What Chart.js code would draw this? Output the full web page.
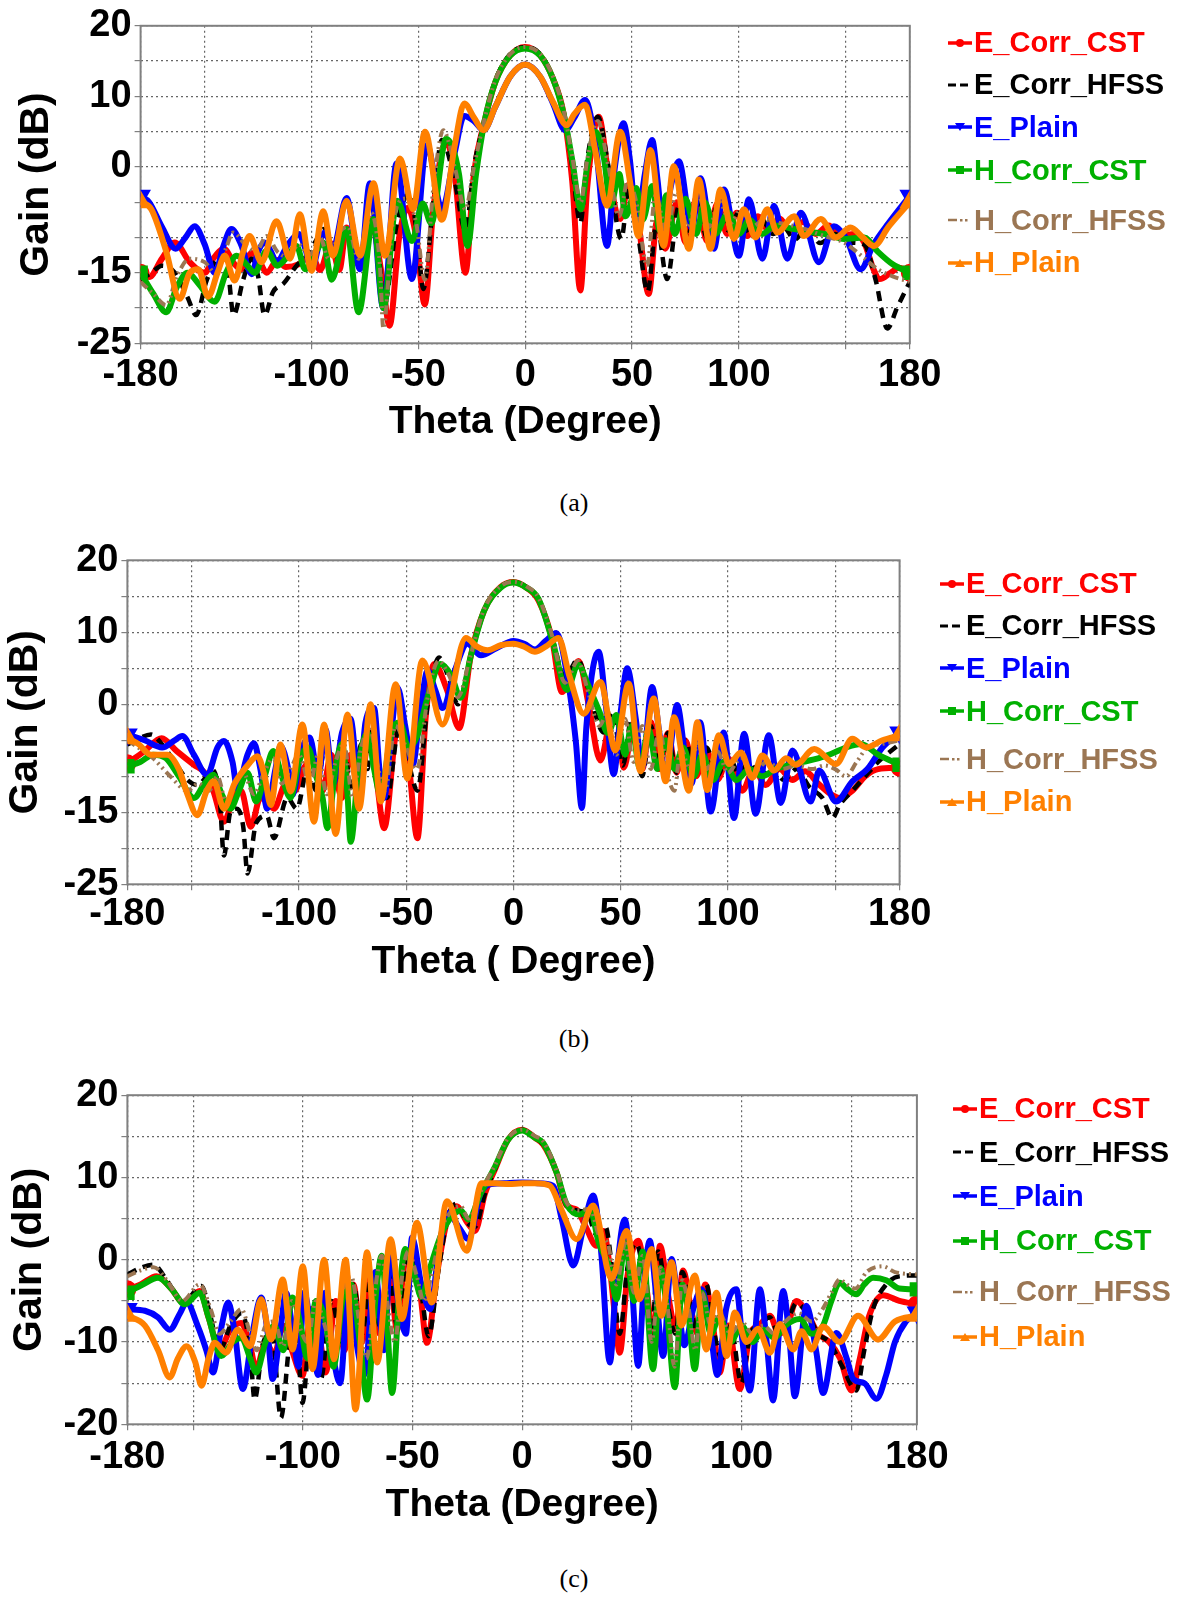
<!DOCTYPE html>
<html>
<head>
<meta charset="utf-8">
<script src="https://cdn.jsdelivr.net/npm/chart.js@4.4.1/dist/chart.umd.min.js"></script>
<style>
body { margin: 0; background: #fff; width: 1190px; height: 1597px; position: relative; overflow: hidden; font-family: "Liberation Sans", Arial, sans-serif; }
canvas { position: absolute; left: 0; }
.leg { position: absolute; height: 40px; display: flex; align-items: center; font-weight: bold; font-size: 29px; white-space: nowrap; }
.leg svg { margin-right: 1px; }
.cap { position: absolute; font-family: "Liberation Serif", "Times New Roman", serif; font-size: 26px; transform: translate(-50%, -50%); }
</style>
</head>
<body>
<canvas id="chartA" width="1190" height="470" style="top:0px"></canvas>
<canvas id="chartB" width="1190" height="470" style="top:530px"></canvas>
<canvas id="chartC" width="1190" height="470" style="top:1060px"></canvas>
<div class="cap" style="left:574px;top:503px">(a)</div>
<div class="cap" style="left:574px;top:1039px">(b)</div>
<div class="cap" style="left:574px;top:1579px">(c)</div>
<script>
// Gain patterns (theta in degrees, gain in dB)

const SERIES_NAMES = ['E_Corr_CST', 'E_Corr_HFSS', 'E_Plain', 'H_Corr_CST', 'H_Corr_HFSS', 'H_Plain'];
const X_TICKS = [-180, -150, -100, -50, 0, 50, 100, 150, 180];
const X_LABELS = [-180, -100, -50, 0, 50, 100, 180];
const A_Y_LABELS = [20, 10, 0, -15, -25];
const B_Y_LABELS = [20, 10, 0, -15, -25];
const C_Y_LABELS = [20, 10, 0, -10, -20];

// ---- (a) ----
const aECorrCst = [[-180,-15],[-176,-15.6],[-170,-13],[-164,-10.7],[-157,-13.5],[-150,-15],[-146,-13],[-141,-11.6],[-136,-13.8],[-133,-14.5],[-128,-12.2],[-124,-13.6],[-121,-15],[-116,-13.2],[-112,-14.2],[-106,-13.8],[-100,-12.5],[-96,-14.6],[-91,-10.8],[-87,-14.6],[-83.6,-8.6],[-78,-13.8],[-72.5,-7.4],[-67,-15.5],[-63.5,-22.5],[-59,-10],[-55,-5.8],[-51,-10],[-47,-19.5],[-43,-6],[-37,3.5],[-33,-1],[-28,-15],[-24,-1],[-19,6.5],[-14,12],[-7,15.8],[0,17],[7,15.8],[13,12.5],[18,7.5],[22,-2],[25.8,-17.5],[29,-3],[34.4,7.1],[39,-1],[44.5,-7.4],[48.4,-2.5],[53,-8],[57.8,-18],[61.7,-7.7],[65.6,-11.6],[71,-5],[75,-10.7],[80.5,-4.2],[85,-10.5],[90,-5.2],[94.5,-9.5],[99,-6.5],[104,-9.8],[109,-7],[114,-9],[119,-7.3],[124,-9],[130,-7.8],[136,-9.5],[142,-8.3],[148,-9.7],[154,-9.5],[158.6,-10.7],[163,-14.5],[166,-15.9],[171,-15],[175,-14.3],[180,-15]];
const aECorrHfss = [[-180,-16],[-175,-15],[-170,-14],[-164,-15],[-158,-18.5],[-154,-21],[-149,-16],[-142,-12.5],[-139,-15],[-136.5,-21],[-132,-16],[-128,-13],[-125,-15.5],[-122,-21],[-118,-17.7],[-113,-16.5],[-107,-14],[-102,-12.5],[-98,-10.5],[-94.5,-8.8],[-90,-13],[-86,-10],[-83,-9.5],[-78,-14],[-72.7,-7.8],[-68,-14],[-66.4,-20],[-60,-8],[-54,-3.7],[-50.5,-10],[-47.7,-17.3],[-43,-5],[-39,3.8],[-33,-2],[-28,-9],[-24,0],[-19,6.5],[-14,12.2],[-7,16],[0,17],[7,16],[13,12.5],[18,7.5],[22,0],[25.8,-7.9],[29,1],[34,7.1],[39,0],[45,-10.2],[48.5,-3],[53,-10],[57.3,-17.7],[61.5,-8],[66.4,-15.9],[72,-5.5],[76,-10],[80.5,-4.5],[85,-10],[90,-5.5],[95,-9],[100,-6.5],[105,-9.5],[110,-7.2],[116,-9.5],[121,-8.5],[126,-10.3],[132,-8.6],[138,-10.8],[145,-9.5],[152,-10.7],[158.6,-11],[164,-16],[169.5,-22.9],[174,-20],[180,-16.3]];
const aEPlain = [[-180,-4.1],[-176,-5],[-170,-8.5],[-163.6,-11.6],[-159,-10],[-154.7,-8.4],[-150,-11],[-145.3,-15],[-141,-11],[-137.5,-8.8],[-133,-11],[-128,-15.2],[-125,-12],[-122,-10.7],[-119,-12],[-116.4,-13.5],[-111,-11],[-106,-9.5],[-103,-11.5],[-100,-14.5],[-96,-10.5],[-93.8,-9.3],[-90,-11.6],[-83.6,-4.4],[-77.3,-14.5],[-72.7,-2.3],[-66.4,-20],[-60.2,0.5],[-53,-15.9],[-46,3.1],[-39,-6],[-33,2],[-28.6,7.2],[-24,6.5],[-19.5,5.2],[-14,8.5],[-7,12.8],[0,14.5],[7,12.8],[13,9],[18.7,5.2],[23,7],[28,9.5],[33,3],[38.3,-11.2],[42,0],[46,6.2],[49,1],[52.3,-8],[56,-1],[59.4,3.8],[62,-2],[64.8,-9.3],[68,-3],[71.9,0.8],[78,-8.7],[82,-1.6],[88.3,-11.6],[93,-3.2],[100,-12.6],[104.7,-4.6],[111,-13],[116.4,-5.5],[122.7,-13],[129,-6.5],[137.5,-13.5],[144.5,-8.4],[150,-10],[157,-14.5],[163,-11],[170,-8],[180,-4.1]];
const aHCorrCst = [[-180,-15],[-174,-18],[-168,-20.6],[-163,-17],[-158,-15],[-153,-16.5],[-145.3,-19.1],[-140,-15],[-135,-12.6],[-130,-14],[-126.6,-15],[-121,-11.9],[-116,-14],[-112,-13],[-107,-11.2],[-103,-14.5],[-98,-12],[-94.5,-10.7],[-90.6,-16],[-83.6,-8.8],[-78,-20.6],[-71,-7.4],[-66.4,-20],[-60,-4.8],[-53,-10.5],[-48,-5.2],[-44,-8],[-37,4],[-31,-1],[-27,-11.2],[-23,-1],[-19,6.5],[-14,12],[-7,15.8],[0,16.8],[7,15.8],[13,12.5],[18,7.5],[22,1],[26,-6],[29,0],[33,5],[37,1],[40,-5.5],[44,-1],[47,-7],[52,-3],[55,-7.5],[59.4,-2.7],[63,-9],[66,-4],[70,-9.5],[75,-4.5],[80,-9.5],[84,-5],[89,-9.5],[95,-6.5],[100,-9.5],[105,-7.5],[111,-9.5],[117,-8.3],[125.8,-8.8],[135,-9.3],[142,-9.6],[149,-10.2],[158.6,-10],[165,-12],[172,-13.8],[180,-15]];
const aHCorrHfss = [[-180,-16.3],[-174,-18],[-168,-19.6],[-163,-15.5],[-157,-13],[-150,-13.5],[-145,-15],[-140,-11.5],[-136.7,-9.3],[-131,-11],[-126,-12],[-121,-9.8],[-116,-12],[-111,-12.8],[-106,-11],[-101,-12.5],[-96,-10],[-92,-13],[-87,-9.3],[-83,-8.5],[-78,-13],[-72,-6.5],[-68,-14],[-66.4,-22.9],[-62,-8],[-56,-4.5],[-51,-8],[-47,-16],[-43,-3],[-38.3,5.2],[-33,0],[-28,-6],[-24,0],[-19,6.8],[-14,12.3],[-7,16],[0,17],[7,16],[13,12.8],[18,8],[22,1.5],[26,-5],[29,1],[34,6.5],[39,0],[44,-7],[48,-2],[52,-5],[57,-14],[61,-4],[66,-9],[71,-3.5],[76,-8.5],[81,-4],[86,-8.5],[91,-5],[96,-8],[101,-6],[106,-8.5],[112,-7.5],[120,-8],[130,-8.7],[140,-9.8],[149,-10.7],[157,-12.5],[165,-14.5],[172,-15.5],[180,-16.3]];
const aHPlain = [[-180,-5],[-175,-6],[-168,-12],[-161.7,-18.7],[-157,-15],[-153,-14.5],[-148.4,-18.4],[-144,-15],[-140.6,-12.6],[-136,-16.1],[-132,-12],[-129,-9.8],[-123.4,-13.5],[-116.4,-7.7],[-110,-13],[-105.5,-6.7],[-100,-14.7],[-94.5,-6.3],[-90,-12.6],[-83.6,-4.8],[-77.3,-12.6],[-71,-2.3],[-65.6,-12.6],[-58.6,1.2],[-52.5,-6],[-46.9,5],[-39,-7.5],[-33,3],[-28.5,9],[-24,7],[-19.5,5.2],[-14,8.5],[-7,12.8],[0,14.5],[7,12.8],[13,9.2],[19.5,5.9],[23,7.5],[28,8.8],[33,2],[38.3,-5.5],[44.5,5],[49,-2],[53,-9.8],[58.6,2.4],[64.8,-11.2],[69.5,0.1],[76.6,-11.6],[81.2,-1.8],[86.7,-11.6],[91.4,-3.2],[97.7,-10.2],[102.3,-6],[107.8,-10],[113.3,-6],[118,-9.3],[125.8,-7],[130.5,-9.8],[138.3,-7.4],[145.3,-10],[152.3,-8.6],[158,-10],[163.3,-11.2],[170,-8.5],[180,-5]];

// ---- (b) ----
const bECorrCst = [[-180,-8.2],[-172,-6.5],[-164,-4.7],[-157,-6.5],[-149,-8.4],[-144,-9.5],[-140,-12],[-135,-16.3],[-130,-12.5],[-127,-12],[-122.5,-17],[-118,-13],[-115,-13.5],[-111.7,-14.5],[-106,-11],[-102,-12],[-98,-9],[-93,-7.5],[-89,-12],[-85,-7],[-80,-13],[-76,-7],[-72,-12.5],[-67,-4],[-64,-10],[-60.3,-17.2],[-54,-3.3],[-49,-8],[-44.8,-18.6],[-41,-2],[-37,5.6],[-31,2],[-25.3,-3.3],[-20,6.6],[-13.7,13],[-6,16.3],[0,17],[6,16.2],[11.7,14.4],[18,9],[22.6,1.7],[30.4,6],[35,0],[40.5,-7.8],[45,-2.5],[48.3,-1.8],[51.4,-8.8],[56,-3],[60,-9],[64,-2.5],[68,-9],[72,-4],[76,-9.5],[80,-5],[85,-10],[90,-6.5],[95,-10.5],[100,-7.5],[106.7,-12],[112,-9],[117.6,-11.2],[124,-9],[130,-10.5],[136,-9.3],[142,-11],[148,-12.5],[152,-13],[158,-12],[164,-10],[170,-9],[180,-8.8]];
const bECorrHfss = [[-180,-5.6],[-175,-4.8],[-169,-4.2],[-164,-5.5],[-158,-8],[-152,-10.5],[-147.4,-11.2],[-143,-10],[-140.4,-9.1],[-137,-13],[-135,-21],[-132,-15],[-129,-14.5],[-126,-17],[-124,-23.5],[-120,-16.5],[-115,-15.5],[-111.7,-18.6],[-105.4,-13],[-101,-14.5],[-96,-9],[-92,-12],[-87.6,-5.6],[-83,-11],[-79,-7],[-75,-12],[-71,-5.5],[-68,-9],[-66.6,-3.7],[-62,-10],[-59,-13],[-53.3,-3.3],[-49,-8],[-44.8,-12],[-40,0],[-34.7,6.5],[-30,3.5],[-26,0],[-20,6.6],[-13.7,13],[-6,16.3],[0,17],[6,16.3],[11.7,14.6],[18,9.2],[24,3.8],[30,6.2],[35,2],[42,-3.9],[46,-1],[51,-8.5],[55,-2],[60,-10],[64,-3],[68,-9],[72,-4],[76,-9.5],[80,-5],[85,-9.5],[90,-6],[95,-10],[100,-7],[105,-9.5],[110,-8],[115,-10.5],[120,-8.5],[126,-10.5],[132,-9],[138,-11.5],[144,-13],[148.7,-15.8],[152,-14],[158,-12],[164,-10],[170,-8],[180,-5.5]];
const bEPlain = [[-180,-4.2],[-172,-5],[-163.8,-6],[-158,-5],[-154.4,-4.4],[-149,-7],[-142.8,-9.8],[-138,-6],[-135,-5.1],[-131,-8],[-128.8,-11.7],[-124,-7],[-121,-5.4],[-118,-9],[-114.8,-14.5],[-111,-9],[-108.6,-5.8],[-105,-9],[-103,-12.6],[-99,-6.5],[-95,-4.6],[-91,-10],[-87.6,-3.5],[-84,-11],[-80,-4],[-76,-2],[-72,-11],[-69,-2.5],[-65,-0.5],[-62.5,-9],[-60.3,-13],[-57,-4],[-54,2.3],[-50.5,-3],[-47,-8.4],[-43.5,-1],[-40,4.7],[-36.5,2],[-33.1,-0.5],[-27,5],[-21.5,8.4],[-15.2,6.8],[-8,7.8],[0,8.8],[5,8.4],[10,7.6],[15,8.8],[20,9.9],[25,4],[29,-5],[31.9,-14.4],[34,-3],[39.7,7.3],[43,0],[46.7,-9.7],[50,-1],[53,5],[57,-2],[60,-8.8],[64.6,2.4],[68,-4],[70.9,-10.2],[76.3,-0.1],[80,-7],[83,-11],[87,-2.5],[91.9,-14.9],[98,-3.9],[102.8,-15.8],[107.5,-4.1],[112.9,-15.2],[119,-4.3],[124.6,-13.7],[130,-6.4],[138.6,-13.5],[142.5,-9.2],[150.3,-13.5],[158,-10.7],[165,-9],[172,-6],[180,-3.9]];
const bHCorrCst = [[-180,-8.6],[-174,-8],[-168,-7],[-162,-7.5],[-156,-10],[-149,-13],[-144,-11],[-140,-9.8],[-136,-12.5],[-132,-14.5],[-128,-12],[-124,-9.5],[-120,-13.5],[-116,-10],[-112,-6.5],[-108,-10],[-104,-13],[-100,-8],[-96,-6],[-92,-10],[-89,-13],[-86.8,-17.2],[-83,-9],[-80,-5.5],[-77.5,-12],[-75.9,-19.1],[-72,-8],[-68,-4],[-65,-9],[-62,-12.5],[-57,-4],[-53,-2.5],[-49,-6],[-45,-4.5],[-40,1],[-34,5.6],[-29,4],[-24.6,0.9],[-20,6.6],[-13.7,13],[-6,16.2],[0,16.9],[6,16.2],[11.7,14.6],[18,9],[25,2],[30,5.5],[35,2.5],[40,-1],[44,-4],[48,-1.5],[52,-7],[55,-3],[59,-9],[63,-3.5],[67,-9],[71,-5],[75,-9],[79,-6],[84,-10],[88,-7],[93,-10.5],[98,-8],[104,-10.5],[110,-9],[116,-10],[122,-9],[128,-8.5],[135,-8],[142,-7.5],[148,-6.9],[155,-6],[162,-5.5],[170,-7],[180,-8.4]];
const bHCorrHfss = [[-180,-5],[-175,-6],[-168,-7.5],[-160,-10],[-152,-12],[-147,-11],[-142,-12],[-138,-10],[-134,-13.5],[-130,-11],[-126,-9.5],[-121,-12.5],[-117,-10],[-112,-7.5],[-108,-11],[-104,-9],[-100,-7],[-95,-11],[-91,-7],[-87,-12.5],[-83,-8],[-79,-5.5],[-75,-13],[-71,-6],[-67,-3.5],[-63,-9],[-60,-12],[-55,-3],[-50,-6],[-45,-9],[-40,1],[-35,6],[-30,4],[-26,1],[-20,6.8],[-13.7,13.2],[-6,16.4],[0,17],[6,16.4],[11.7,14.8],[18,9.5],[24,3],[30,6],[35,1.5],[40,-3],[44,-1],[48,-7],[52,-2],[56,-8],[60,-3],[64,-9],[68,-3.5],[72,-10],[75,-12],[78,-6],[82,-9],[86,-5.5],[90,-9],[95,-6.5],[100,-9.5],[106,-7.5],[112,-9.5],[118,-8],[125,-9],[132,-8.5],[139,-9],[145,-8.5],[150,-9],[155,-10],[160,-8],[165,-6],[172,-5.5],[180,-5]];
const bHPlain = [[-180,-4.7],[-175,-5.5],[-169,-7],[-161.4,-7],[-156,-9],[-152,-12.5],[-147.4,-15.4],[-143,-12],[-139.7,-10.7],[-135,-14.5],[-130,-11],[-124,-8.5],[-119.4,-7.2],[-116,-10],[-113.2,-14],[-108.6,-5.6],[-103.9,-12.1],[-98.4,-2.8],[-93,-16.3],[-88.3,-2.8],[-82.9,-18],[-77.4,-1.4],[-72,-14.5],[-66.6,0],[-61.9,-13.5],[-54.9,2.8],[-49.5,-10.3],[-42.5,6.1],[-33.1,-2.8],[-22.2,9.2],[-17,8],[-12,7.5],[-6,8.2],[0,8.4],[5,8],[10,7.3],[15,8],[21,9.2],[26,4],[32.7,-1.3],[40.5,3.1],[47.5,-6.4],[53.7,2.9],[59.2,-9.3],[65.4,0.8],[70.9,-10.7],[74.8,-1.8],[81.8,-12],[85.7,-2.5],[90.3,-11.9],[95.8,-4.3],[100.5,-8.3],[106,-6.7],[111.4,-10.2],[116,-7.1],[121.5,-9.2],[127,-7.5],[131.6,-8.4],[140.2,-6.2],[150.3,-8.3],[158,-4.8],[164.3,-6],[172,-5],[180,-4.3]];

// ---- (c) ----
const cECorrCst = [[-180,-3.6],[-174,-3],[-166.7,-2],[-160,-3.5],[-154.6,-5.2],[-147,-3.8],[-143,-7],[-138,-10.9],[-133,-8.5],[-128.1,-7.7],[-124,-10.5],[-121.3,-13.3],[-117,-10],[-113,-11.5],[-109,-8],[-105,-11],[-100.2,-14.1],[-96,-6],[-92,-10],[-89.6,-13.7],[-85,-5],[-81,-11],[-77,-3],[-73,-10],[-69,-2],[-65,-9],[-61,-0.5],[-57,-8.5],[-54,-1],[-50.2,0.9],[-46.5,-4],[-43.4,-10.1],[-39,-2],[-34,5],[-30,6.5],[-25,4.5],[-21.5,3.5],[-17,8],[-12.4,11],[-6.4,14.6],[0,15.8],[6,14.8],[9.6,14],[15.7,10.6],[20.2,6.6],[24.8,6.1],[29,4],[33.9,1.7],[37,3.5],[40,-1],[42,-6],[44.5,-11.3],[48,-2],[52.9,2.3],[57,-4],[60,-10],[62.8,1.7],[67,-5],[70,-8.5],[73.4,-1.3],[77,-6],[80,-9],[83.5,-3],[87,-8],[90.1,-13.7],[94,-8],[99.2,-15.7],[104,-9],[108,-8],[113,-6.8],[117,-9],[121,-8],[125,-5],[130,-6.5],[135,-9],[140,-10],[145,-12],[150.2,-15.9],[154,-12],[158,-7],[164.6,-4.3],[172,-5],[180,-5.4]];
const cECorrHfss = [[-180,-1.8],[-174,-1],[-168.2,-0.6],[-162,-2.5],[-154.6,-5.2],[-146.2,-3.2],[-142,-7],[-138,-11],[-133,-8],[-128,-6.5],[-124,-11],[-122,-17],[-118,-10],[-114,-9],[-110,-19.2],[-106,-10],[-103,-8],[-100.2,-17.4],[-96,-7],[-91.8,-14.5],[-87,-5],[-82,-10],[-77,-3],[-73,-9],[-69,-2.5],[-65,-8],[-61,-1],[-57,-8],[-53,-1],[-49.5,0.5],[-46,-4],[-42.7,-9.3],[-38,-1],[-34,5],[-30,6.8],[-25,4.5],[-21.5,4],[-17,8],[-12.4,11],[-6.4,14.6],[0,15.8],[6,14.8],[9.6,14],[15.7,10.6],[20.2,6.6],[25,6],[30,5.5],[34,3],[38,4],[41,-1],[44.5,-9],[48,-1],[52,2],[56,-3],[59,-9.5],[62,1],[66,-5],[70,-9],[73,-1.5],[77,-6],[80,-9],[84,-3],[87,-8],[91,-12],[95,-8],[100,-15],[104,-9],[108,-8],[113,-7],[117,-9],[121,-7.5],[125,-5.3],[130,-6.5],[135,-9],[140,-10],[146,-13],[152.4,-15.9],[156,-11],[160,-6],[166,-3],[172,-2],[180,-1.9]];
const cEPlain = [[-180,-6],[-172,-6.2],[-166,-7],[-160.7,-8.5],[-156,-6.5],[-153,-5.2],[-148,-8],[-144,-11],[-141,-13.7],[-137,-8],[-134,-5.2],[-131,-9],[-127.4,-15.7],[-123,-9],[-119,-4.6],[-116,-9],[-113.8,-14.5],[-110,-8],[-107.7,-4],[-104,-10],[-102,-13],[-99.4,-4],[-96,-9],[-93,-14],[-90,-4],[-86,-12],[-83,-15],[-79,-3],[-75,-11],[-72,-14],[-67,-1.5],[-63,-11],[-60,0.5],[-56,-6],[-53,-9],[-50.2,2.7],[-46,-3],[-42,-6],[-38,1],[-33.6,5.7],[-29,4],[-24.5,2.5],[-19,8],[-14,9.2],[-7,9.3],[0,9.4],[7,9.3],[14,9],[18,5],[23.3,-0.7],[28,4],[32.4,7.8],[36,1],[40,-12.5],[43,-2],[46.8,4.9],[50,-3],[52.9,-12.9],[55.5,-3],[58.2,2.3],[61,-4],[64.3,-11.7],[68.1,0.1],[71,-5],[74,-10.4],[78,-6],[81.8,-3.6],[86,-9],[89,-14],[93,-6],[97.7,-3.6],[100.5,-10],[103.8,-15.9],[108.4,-3.6],[111.5,-10],[114.4,-17.1],[119,-3.8],[122,-10],[124.3,-16.6],[129.6,-5.6],[134,-11],[137.2,-16.2],[143.3,-8.9],[148,-12],[151,-14.5],[156,-15],[161.6,-16.9],[166,-14],[170,-10],[175,-7.5],[180,-6.4]];
const cHCorrCst = [[-180,-4],[-173,-3],[-166,-2.2],[-160,-3.5],[-153.9,-5.4],[-147,-4],[-143,-7],[-137.2,-11.7],[-132,-10],[-128,-9.5],[-124,-12],[-121.3,-13.7],[-117,-10],[-113,-8],[-109,-11],[-104.7,-4.6],[-101,-8],[-98,-12],[-94,-5],[-90,-7],[-86,-13],[-82,-5],[-78,-3],[-74,-10],[-70.7,-17],[-67,-5],[-64,0.5],[-61.5,-8],[-59.3,-16.2],[-56,-4],[-53.3,1.3],[-49,-2],[-46,-4.5],[-42,-1],[-37,3],[-32,5.3],[-28,6],[-24.5,4.9],[-19,8],[-12.4,11.3],[-6.4,14.6],[0,15.7],[6,14.8],[9.6,14.2],[15.7,10.6],[20.2,6.8],[26.3,5.5],[30.9,6.1],[35,2],[40,-1],[43,-4.8],[47,2],[51,-5],[55,1],[59.7,-13.3],[63,-1],[66,-6],[69.6,-15.5],[73,-3],[76,-7],[78.7,-13.3],[82,-4],[86,-9],[90,-7],[95,-10],[100,-8],[105,-10],[110,-8.5],[115,-9.5],[120,-8],[126.6,-7.2],[132,-9],[137.2,-8],[141,-5],[144.8,-2.8],[148,-3.5],[152.4,-4.2],[156,-3],[160,-2.2],[166,-2.5],[172,-3.5],[180,-3.6]];
const cHCorrHfss = [[-180,-2],[-174,-1.3],[-168,-0.9],[-162,-2.5],[-155,-5],[-147,-3],[-142,-6],[-138,-9],[-133,-7.5],[-128,-6],[-124,-9],[-121,-11],[-117,-8],[-113,-7.5],[-109,-10.5],[-105,-5],[-101,-8.5],[-98,-10],[-94,-5],[-90,-8],[-86,-11.5],[-82,-4],[-78,-2],[-74,-8],[-71,-12],[-67,-3.5],[-64,0.5],[-61,-6],[-58,-10],[-55,-2.5],[-52,1],[-48,-2],[-45,-5],[-41,-1.5],[-37,3.5],[-32,6],[-28,6.5],[-24.5,5],[-19,8.2],[-12.4,11.5],[-6.4,14.8],[0,15.8],[6,15],[9.6,14.4],[15.7,10.8],[20.2,7],[26,6],[31,6.2],[35,3],[39,2],[43,-3],[47,2],[51,-4],[55,0.5],[59,-10],[63,-1],[66,-5],[69.5,-13],[73,-2.5],[76,-6],[79,-11],[82,-4],[86,-8],[90,-6.5],[95,-9],[100,-7.5],[105,-9],[110,-8],[115,-9],[120,-7.5],[126,-6.5],[132,-7.5],[137,-6],[141,-4],[144.8,-2.4],[148,-3],[152,-3.5],[157,-1.5],[164.6,-0.8],[170,-1.5],[180,-1.8]];
const cHPlain = [[-180,-6.8],[-172,-8],[-166,-11],[-160.7,-14.3],[-157,-12],[-153,-10.5],[-149,-12.5],[-146.2,-15.3],[-143,-12],[-140.2,-10.1],[-135,-11.3],[-129.7,-8.5],[-124,-10.5],[-119,-4.8],[-114.5,-9.7],[-109.2,-2.4],[-104.7,-10.9],[-100,-0.8],[-95.6,-13.3],[-90.3,0],[-85.8,-12.1],[-80.5,0],[-76,-18.2],[-70.7,0.9],[-66.1,-12.5],[-60,2.5],[-54.8,-7.2],[-48,4.5],[-41.2,-5.2],[-34.3,7.1],[-25.3,1.1],[-18.5,9.3],[-12,9.3],[-6,9.2],[0,9.3],[6,9.3],[12.6,9],[18,6],[24.8,2.5],[32.4,6.6],[40.7,-2.3],[47.6,3.5],[53.6,-4.8],[59,1.3],[63.5,-6.8],[68.1,-0.3],[72.6,-8],[78.7,-1.9],[84,-10.9],[88.6,-4],[93.2,-11.7],[97,-6.4],[102.3,-10],[107.6,-8.4],[113,-11.3],[117.5,-7.8],[123.6,-10.9],[127.4,-8.7],[132,-10.9],[137.2,-8.1],[144.8,-10],[153.2,-6.8],[162.3,-9.7],[170,-7.5],[180,-6.8]];

// line look per series, same order as SERIES_NAMES
const STYLES = [
    { color: '#ff0000', width: 6, dash: [], point: 'circle', rot: 0 },
    { color: '#000000', width: 4.5, dash: [10, 7], point: false, rot: 0 },
    { color: '#0000ff', width: 6, dash: [], point: 'triangle', rot: 180 },
    { color: '#00b000', width: 6, dash: [], point: 'rect', rot: 0 },
    { color: '#9b7653', width: 4, dash: [9, 4, 2, 4, 2, 4], point: false, rot: 0 },
    { color: '#ff8000', width: 6, dash: [], point: 'triangle', rot: 0 }
];

const FONT = '"Liberation Sans", Arial, sans-serif';

// grey frame round the plot area
const framePlugin = {
    id: 'frame',
    beforeDatasetsDraw(chart) {
        const { ctx, chartArea: a } = chart;
        ctx.save();
        ctx.strokeStyle = '#808080';
        ctx.lineWidth = 2;
        ctx.strokeRect(a.left, a.top, a.right - a.left, a.bottom - a.top);
        ctx.restore();
    }
};

function makeDatasets(seriesList) {
    return seriesList.map((pts, i) => {
        const s = STYLES[i];
        const last = pts.length - 1;
        return {
            label: SERIES_NAMES[i],
            data: pts.map(p => ({ x: p[0], y: p[1] })),
            borderColor: s.color,
            backgroundColor: s.color,
            borderWidth: s.width,
            borderDash: s.dash,
            fill: false,
            cubicInterpolationMode: 'monotone',
            tension: 0.4,
            pointStyle: s.point,
            rotation: s.rot,
            pointRadius: ctx => (s.point && (ctx.dataIndex === 0 || ctx.dataIndex === last)) ? 6 : 0,
            order: 5 - i
        };
    });
}

// box: plot area inside the canvas, plus spacing for labels and titles
function makeChart(canvasId, seriesList, yMin, yMax, yLabels, box) {
    const canvas = document.getElementById(canvasId);
    const W = canvas.width, H = canvas.height;
    return new Chart(canvas.getContext('2d'), {
        type: 'line',
        data: { datasets: makeDatasets(seriesList) },
        plugins: [framePlugin],
        options: {
            responsive: false,
            animation: false,
            events: [],
            layout: { padding: { left: 0, top: box.top, right: W - box.right, bottom: H - box.bottom - box.xH } },
            plugins: { legend: { display: false }, tooltip: { enabled: false } },
            scales: {
                x: {
                    type: 'linear', min: -180, max: 180,
                    afterBuildTicks: s => { s.ticks = X_TICKS.map(v => ({ value: v })); },
                    afterFit: s => { s.height = box.xH; },
                    ticks: {
                        autoSkip: false, maxRotation: 0, padding: box.xPad, color: '#000',
                        font: { family: FONT, size: 38, weight: 'bold' },
                        callback: v => X_LABELS.includes(v) ? String(v) : ''
                    },
                    grid: { color: '#666', lineWidth: 1.2, tickLength: 6, tickColor: '#808080' },
                    border: { display: false, dash: [2, 3] },
                    title: { display: true, text: box.xTitle, color: '#000', padding: { top: 0, bottom: 0 },
                             font: { family: FONT, size: 39, weight: 'bold' } }
                },
                y: {
                    min: yMin, max: yMax,
                    afterBuildTicks: s => {
                        const t = [];
                        for (let v = yMin; v <= yMax; v += 5) t.push({ value: v });
                        s.ticks = t;
                    },
                    afterFit: s => { s.width = box.left; },
                    ticks: {
                        autoSkip: false, padding: 3, color: '#000',
                        font: { family: FONT, size: 38, weight: 'bold' },
                        callback: v => yLabels.includes(v) ? String(v) : ''
                    },
                    grid: { color: '#666', lineWidth: 1.2, tickLength: 6, tickColor: '#808080' },
                    border: { display: false, dash: [2, 3] },
                    title: { display: true, text: 'Gain (dB)', color: '#000', padding: { top: box.yTitlePad, bottom: 0 },
                             font: { family: FONT, size: 41, weight: 'bold' } }
                }
            }
        }
    });
}

// small line+marker glyph for the legend
function glyph(i) {
    const c = STYLES[i].color;
    let s = '<svg width="26" height="14" viewBox="0 0 26 14">';
    if (i === 1) {
        s += `<line x1="1" y1="7" x2="9" y2="7" stroke="${c}" stroke-width="3"/><line x1="13" y1="7" x2="21" y2="7" stroke="${c}" stroke-width="3"/>`;
    } else if (i === 4) {
        s += `<line x1="1" y1="7" x2="10" y2="7" stroke="${c}" stroke-width="2.5"/><rect x="13" y="6" width="2.5" height="2.5" fill="${c}"/><rect x="18" y="6" width="2.5" height="2.5" fill="${c}"/>`;
    } else {
        s += `<line x1="1" y1="7" x2="25" y2="7" stroke="${c}" stroke-width="3.5"/>`;
        if (i === 0) s += `<circle cx="13" cy="7" r="4" fill="${c}"/>`;
        if (i === 2) s += `<polygon points="8,3 18,3 13,11" fill="${c}"/>`;
        if (i === 3) s += `<rect x="9" y="3" width="8" height="8" fill="${c}"/>`;
        if (i === 5) s += `<polygon points="8,11 18,11 13,3" fill="${c}"/>`;
    }
    return s + '</svg>';
}

function buildLegend(x, ys) {
    ys.forEach((y, i) => {
        const d = document.createElement('div');
        d.className = 'leg';
        d.style.left = x + 'px';
        d.style.top = (y - 20) + 'px';
        d.style.color = STYLES[i].color;
        d.innerHTML = glyph(i) + SERIES_NAMES[i];
        document.body.appendChild(d);
    });
}

makeChart('chartA', [aECorrCst, aECorrHfss, aEPlain, aHCorrCst, aHCorrHfss, aHPlain], -25, 20, A_Y_LABELS,
    { left: 140.6, right: 909.8, top: 25.5, bottom: 343.3, xH: 102.5, xPad: 3, yTitlePad: 12, xTitle: 'Theta (Degree)' });
makeChart('chartB', [bECorrCst, bECorrHfss, bEPlain, bHCorrCst, bHCorrHfss, bHPlain], -25, 20, B_Y_LABELS,
    { left: 127.4, right: 899.6, top: 30.3, bottom: 354.3, xH: 101.3, xPad: 1, yTitlePad: 1, xTitle: 'Theta ( Degree)' });
makeChart('chartC', [cECorrCst, cECorrHfss, cEPlain, cHCorrCst, cHCorrHfss, cHPlain], -20, 20, C_Y_LABELS,
    { left: 127.4, right: 916.9, top: 35.2, bottom: 364.3, xH: 104.3, xPad: 4, yTitlePad: 5, xTitle: 'Theta (Degree)' });

buildLegend(947, [42.8, 84.6, 127.3, 170.1, 220, 262.9]);
buildLegend(939, [583.8, 625.5, 668.3, 711.1, 759, 801.8]);
buildLegend(952, [1108.5, 1152.3, 1196, 1240.9, 1291.8, 1336.7]);
</script>
</body>
</html>
